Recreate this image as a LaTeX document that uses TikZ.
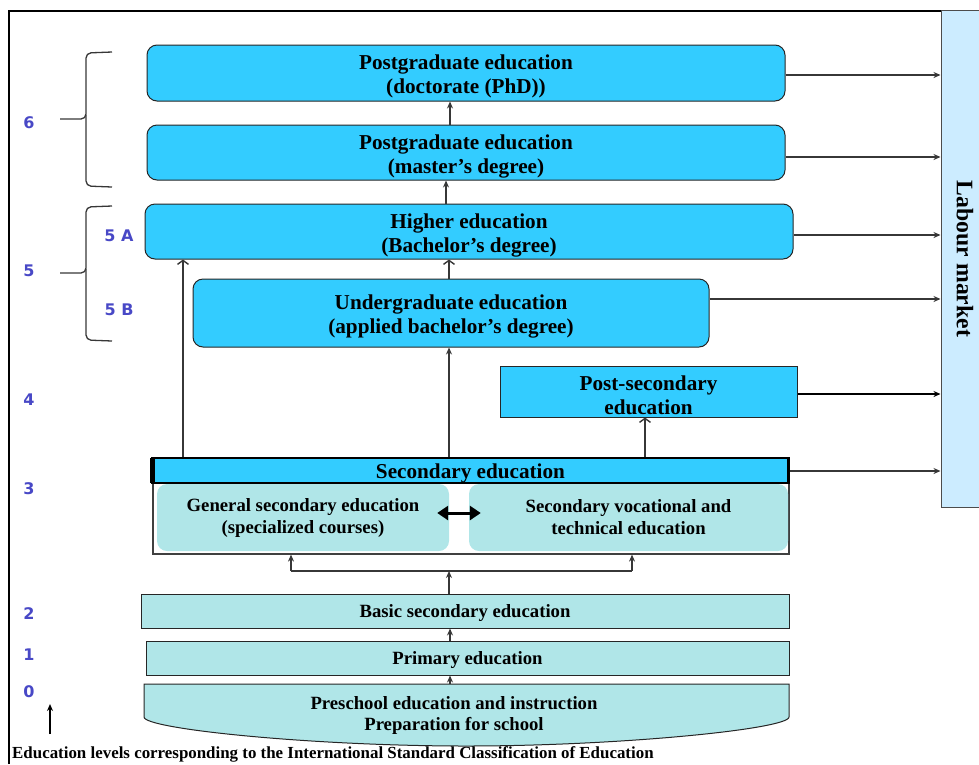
\documentclass[tikz,border=0pt]{standalone}
\usepackage{fontspec}
\setmainfont{Liberation Serif}
\setsansfont{Liberation Sans}
\newfontfamily\lvlfont{DejaVu Sans}
\usetikzlibrary{arrows.meta,calc}
\definecolor{bluebox}{RGB}{51,204,255}
\definecolor{cyanbox}{RGB}{176,230,232}
\definecolor{labourc}{RGB}{204,236,255}
\definecolor{lvl}{RGB}{72,72,198}
\definecolor{lin}{RGB}{55,55,55}
\begin{document}
\begin{tikzpicture}[x=1pt,y=-1pt,
  bigfont/.style={font=\bfseries\fontsize{21.2}{24}\selectfont},
  lowfont/.style={font=\bfseries\fontsize{18.7}{22}\selectfont},
  btxt/.style={label={[bigfont, align=center, inner sep=0pt, yshift=-3.5pt]center:{#1}}},
  ltxt/.style={label={[lowfont, align=center, inner sep=0pt, yshift=-2.5pt]center:{#1}}},
  bigbox/.style={draw=black!85, line width=1pt, fill=bluebox, rounded corners=10pt, inner sep=0pt},
  sqbox/.style={draw=black!85, line width=1pt, fill=bluebox, inner sep=0pt},
  lowbox/.style={draw=black!85, line width=1pt, fill=cyanbox, inner sep=0pt},
  subbox/.style={fill=cyanbox, rounded corners=10pt,
    align=center, inner sep=0pt, font=\bfseries\fontsize{18.7}{22}\selectfont},
  lvltxt/.style={text=lvl, font=\lvlfont\bfseries\fontsize{16}{16}\selectfont, inner sep=0pt},
  arr/.style={draw=lin, line width=1.4pt, -{Stealth[length=7pt,width=6pt]}},
  barb/.style={draw=lin, line width=1.4pt, -{Straight Barb[length=4pt,width=11pt]}},
  plain/.style={draw=lin, line width=1.4pt},
  brace/.style={draw=lin, line width=1.3pt, rounded corners=5pt},
]
\useasboundingbox (0,0) rectangle (979,764);

% outer frame
\coordinate (fbl) at (9,764);
\coordinate (ftl) at (9,11);
\coordinate (ftr) at (941,11);
\draw[line width=2pt] (fbl) -- (ftl) -- (ftr);

% labour market
\node[draw=black!70, line width=1pt, fill=labourc, minimum width=44pt, minimum height=497pt,
  inner sep=0pt] (labour) at (963,258.5) {};
\node[rotate=-90, font=\bfseries\fontsize{23.7}{26}\selectfont, inner sep=0pt] (labtxt) at (965,259) {Labour market};

% upper boxes
\node[bigbox, minimum width=638pt, minimum height=56pt,
  btxt={Postgraduate education\\(doctorate (PhD))}] (phd) at (466,73) {};
\node[bigbox, minimum width=638pt, minimum height=55pt,
  btxt={Postgraduate education\\(master’s degree)}] (mas) at (466,152.5) {};
\node[bigbox, minimum width=648pt, minimum height=55pt,
  btxt={Higher education\\(Bachelor’s degree)}] (bach) at (469,231.5) {};
\node[bigbox, minimum width=516pt, minimum height=68pt,
  btxt={Undergraduate education\\(applied bachelor’s degree)}] (appl) at (451,313) {};
\node[sqbox, minimum width=297pt, minimum height=51pt,
  btxt={Post-secondary\\education}] (post) at (648.5,391.5) {};

% secondary block
\node[draw=black!75, line width=1.2pt, minimum width=636pt, minimum height=71pt, inner sep=0pt]
  (secbody) at (471,518.5) {};
\node[subbox, minimum width=292pt, minimum height=67pt] (gen) at (303,517.5)
  {General secondary education\\(specialized courses)};
\node[subbox, minimum width=319pt, minimum height=67pt] (voc) at (628.5,517.5)
  {Secondary vocational and\\technical education};
\node[draw=black, line width=2.6pt, fill=bluebox, minimum width=636pt, minimum height=25pt,
  inner sep=0pt, label={[bigfont, inner sep=0pt, yshift=-3pt]center:{Secondary education}}] (sec) at (470.5,470.5) {};
\fill (150,458) rectangle (155,483);
\draw[line width=3pt, {Triangle[length=11pt,width=14pt]}-{Triangle[length=11pt,width=14pt]}]
  ([yshift=4.5pt,xshift=-12pt]gen.east) -- ([yshift=4.5pt,xshift=12pt]voc.west);

% lower boxes
\node[lowbox, minimum width=648pt, minimum height=34pt, ltxt={Basic secondary education}] (basic) at (465,611) {};
\node[lowbox, minimum width=643pt, minimum height=34pt, ltxt={Primary education}] (prim) at (467.5,658) {};
\draw[draw=black!85, line width=1pt, fill=cyanbox]
  (144,684) -- (789,684) -- (789,717) .. controls (789,729) and (620,746) .. (466,746)
  .. controls (312,746) and (144,729) .. (144,717) -- cycle;
\node[align=center, inner sep=0pt, font=\bfseries\fontsize{18.7}{21.5}\selectfont] (pre) at (454,715.5)
  {Preschool education and instruction\\Preparation for school};
\coordinate (pretop) at (450,684);

% vertical connectors
\coordinate (xa) at (183,0);
\coordinate (xb) at (449,0);
\coordinate (xc) at (645,0);
\coordinate (xd) at (446,0);
\coordinate (xe) at (450,0);
\draw[arr] (pretop) -- (prim.south -| pretop);
\draw[arr] (prim.north -| xe) -- (basic.south -| xe);
\coordinate (split) at (449,571);
\coordinate (gl) at (291,571);
\coordinate (gr) at (632,571);
\draw[arr] (basic.north -| split) -- (split);
\draw[plain] (gl) -- (gr);
\draw[arr] (gl) -- (secbody.south -| gl);
\draw[arr] (gr) -- (secbody.south -| gr);
\draw[barb] (sec.north -| xa) -- (bach.south -| xa);
\draw[arr] (sec.north -| xb) -- (appl.south -| xb);
\draw[barb] (sec.north -| xc) -- (post.south -| xc);
\draw[barb] (appl.north -| xb) -- (bach.south -| xb);
\draw[arr] (bach.north -| xd) -- (mas.south -| xd);
\draw[arr] (mas.north -| xe) -- (phd.south -| xe);

% connectors to labour market
\coordinate (ephd) at ($(phd.east)+(0,2)$);
\coordinate (emas) at ($(mas.east)+(0,4.5)$);
\coordinate (ebach) at ($(bach.east)+(0,3.5)$);
\coordinate (eappl) at ($(appl.east)+(0,-14)$);
\coordinate (epost) at ($(post.east)+(0,2.5)$);
\coordinate (esec) at ($(sec.east)+(0,0.5)$);
\draw[arr] (ephd) -- (ephd -| labour.west);
\draw[arr] (emas) -- (emas -| labour.west);
\draw[arr] (ebach) -- (ebach -| labour.west);
\draw[arr] (eappl) -- (eappl -| labour.west);
\draw[arr, draw=black, line width=2.4pt] (epost) -- (epost -| labour.west);
\draw[arr] (esec) -- (esec -| labour.west);

% braces
\draw[brace] (112,52) -- (86,53) -- (86,119) -- (60,119);
\draw[brace] (86,115) -- (86,186) -- (112,187);
\draw[brace] (112,206) -- (86,207) -- (86,273) -- (60,273);
\draw[brace] (86,269) -- (86,340) -- (112,341);

% level labels
\node[lvltxt] (l6) at (29,123) {6};
\node[lvltxt] (l5) at (29,271) {5};
\node[lvltxt] (l5a) at (119,236) {5 A};
\node[lvltxt] (l5b) at (119,310) {5 B};
\node[lvltxt] (l4) at (29,400) {4};
\node[lvltxt] (l3) at (29,489) {3};
\node[lvltxt] (l2) at (29,614) {2};
\node[lvltxt] (l1) at (29,655) {1};
\node[lvltxt] (l0) at (29,692) {0};
\coordinate (upb) at (50,734);
\coordinate (upt) at (50,704);
\draw[line width=1.6pt, -{Stealth[length=7pt,width=6pt]}] (upb) -- (upt);

% caption
\node[anchor=west, inner sep=0pt, font=\bfseries\fontsize{16.9}{18}\selectfont] (cap) at (12,754)
  {Education levels corresponding to the International Standard Classification of Education};
\end{tikzpicture}
\end{document}
